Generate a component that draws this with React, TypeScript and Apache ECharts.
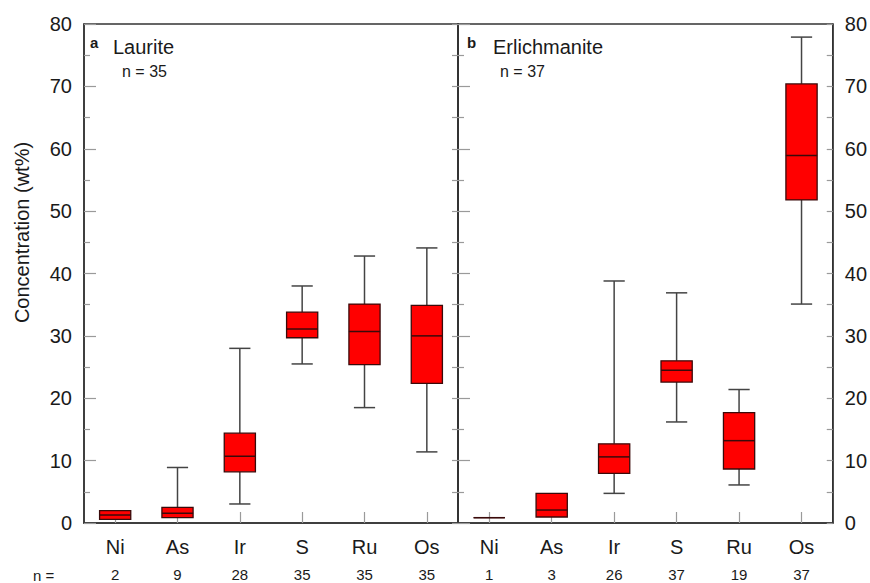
import React, { useEffect, useRef } from "react";
import * as echarts from "echarts";

const categories = ["Ni", "As", "Ir", "S", "Ru", "Os"];
// [min, q1, median, q3, max]
const lauriteStats = [
  [0.59, 0.59, 1.28, 1.97, 1.97],
  [0.85, 0.85, 1.55, 2.5, 8.9],
  [3.05, 8.2, 10.7, 14.4, 28.0],
  [25.5, 29.7, 31.1, 33.8, 38.0],
  [18.5, 25.4, 30.7, 35.1, 42.8],
  [11.4, 22.4, 30.0, 34.9, 44.1],
];
const erlichmaniteStats = [
  [0.85, 0.85, 0.85, 0.85, 0.85],
  [0.96, 0.96, 2.08, 4.75, 4.75],
  [4.75, 7.96, 10.6, 12.7, 38.8],
  [16.2, 22.6, 24.5, 26.0, 36.9],
  [6.1, 8.66, 13.2, 17.7, 21.4],
  [35.1, 51.8, 58.9, 70.4, 77.9],
];
const lauriteCounts = [2, 9, 28, 35, 35, 35];
const erlichmaniteCounts = [1, 3, 26, 37, 19, 37];
const yTicks = { min: 0, max: 80, interval: 10 };
const panelTitles = [
  { letter: "a", name: "Laurite", n: "n = 35" },
  { letter: "b", name: "Erlichmanite", n: "n = 37" },
];

const FONT = "Liberation Sans, Arial, Helvetica, sans-serif";
const TEXT = "#1a1a1a";
const AXIS = "#333";
const TICK = "#9a9a9a";

function renderBox(params: any, api: any) {
  const idx = api.value(0);
  const mn = api.value(1);
  const q1 = api.value(2);
  const md = api.value(3);
  const q3 = api.value(4);
  const mx = api.value(5);
  const band = api.size([1, 0])[0];
  const bw = band * 0.5;
  const cw = band * 0.34;
  const pMin = api.coord([idx, mn]);
  const pQ1 = api.coord([idx, q1]);
  const pMd = api.coord([idx, md]);
  const pQ3 = api.coord([idx, q3]);
  const pMax = api.coord([idx, mx]);
  const cx = pMd[0];
  const wStyle = { stroke: "#444", lineWidth: 1.5 };
  const children: any[] = [];
  if (mx > q3) {
    children.push({ type: "line", shape: { x1: cx, y1: pQ3[1], x2: cx, y2: pMax[1] }, style: wStyle });
    children.push({ type: "line", shape: { x1: cx - cw / 2, y1: pMax[1], x2: cx + cw / 2, y2: pMax[1] }, style: wStyle });
  }
  if (mn < q1) {
    children.push({ type: "line", shape: { x1: cx, y1: pQ1[1], x2: cx, y2: pMin[1] }, style: wStyle });
    children.push({ type: "line", shape: { x1: cx - cw / 2, y1: pMin[1], x2: cx + cw / 2, y2: pMin[1] }, style: wStyle });
  }
  children.push({
    type: "rect",
    shape: { x: cx - bw / 2, y: pQ3[1], width: bw, height: pQ1[1] - pQ3[1] },
    style: { fill: "#ff0000", stroke: "#3a0a0a", lineWidth: 1.3 },
  });
  children.push({
    type: "line",
    shape: { x1: cx - bw / 2, y1: pMd[1], x2: cx + bw / 2, y2: pMd[1] },
    style: { stroke: "#3a0a0a", lineWidth: 1.5 },
  });
  return { type: "group", children };
}

function xAxisFor(gridIndex: number, counts: number[]) {
  return {
    type: "category",
    gridIndex,
    data: categories,
    boundaryGap: true,
    axisLine: { show: true, lineStyle: { color: AXIS, width: 1.5 } },
    axisTick: { show: true, inside: true, alignWithLabel: true, length: 11, lineStyle: { color: TICK, width: 1.2 } },
    axisLabel: {
      margin: 12,
      formatter: (v: string, i: number) => `{c|${v}}\n{n|${counts[i]}}`,
      rich: {
        c: { fontSize: 20, lineHeight: 24, color: TEXT, fontFamily: FONT },
        n: { fontSize: 15, lineHeight: 30, color: TEXT, fontFamily: FONT },
      },
    },
    splitLine: { show: false },
  };
}

function yAxisFor(gridIndex: number, position: string, showLabel: boolean, majorLen: number, extra: any = {}) {
  return {
    type: "value",
    gridIndex,
    position,
    min: yTicks.min,
    max: yTicks.max,
    interval: yTicks.interval,
    axisLine: { show: true, onZero: false, lineStyle: { color: AXIS, width: 1.5 } },
    axisTick: { show: true, inside: true, length: majorLen, lineStyle: { color: TICK, width: 1.2 } },
    minorTick: { show: true, splitNumber: 2, length: 6, lineStyle: { color: TICK, width: 1.2 } },
    axisLabel: { show: showLabel, fontSize: 20, color: TEXT, fontFamily: FONT, margin: 12 },
    splitLine: { show: false },
    minorSplitLine: { show: false },
    ...extra,
  };
}

export default function App() {
  const ref = useRef<HTMLDivElement>(null);
  useEffect(() => {
    if (!ref.current) return;
    const chart = echarts.init(ref.current, null, { renderer: "svg" });
    const toData = (stats: number[][]) => stats.map((s, i) => [i, ...s]);
    const panelGraphics: any[] = [];
    const panelLayout = [
      { x0: 84, letter: 6, name: 29, n: 38 },
      { x0: 458, letter: 9, name: 35, n: 42 },
    ];
    panelTitles.forEach((p, k) => {
      const L = panelLayout[k];
      panelGraphics.push({
        type: "text", left: L.x0 + L.letter, top: 35,
        style: { text: p.letter, fontSize: 15, fontWeight: "bold", fill: TEXT, fontFamily: FONT },
      });
      panelGraphics.push({
        type: "text", left: L.x0 + L.name, top: 37,
        style: { text: p.name, fontSize: 20, fill: TEXT, fontFamily: FONT },
      });
      panelGraphics.push({
        type: "text", left: L.x0 + L.n, top: 63,
        style: { text: p.n, fontSize: 16, fill: TEXT, fontFamily: FONT },
      });
    });
    panelGraphics.push({
      type: "text", left: 33, top: 568,
      style: { text: "n =", fontSize: 15, fill: TEXT, fontFamily: FONT },
    });

    chart.setOption({
      animation: false,
      backgroundColor: "#ffffff",
      grid: [
        { left: 84, top: 24, width: 374, height: 499, show: true, borderColor: AXIS, borderWidth: 1.5, backgroundColor: "transparent" },
        { left: 458, top: 24, width: 375, height: 499, show: true, borderColor: AXIS, borderWidth: 1.5, backgroundColor: "transparent" },
      ],
      xAxis: [xAxisFor(0, lauriteCounts), xAxisFor(1, erlichmaniteCounts)],
      yAxis: [
        yAxisFor(0, "left", true, 12, {
          name: "Concentration (wt%)",
          nameLocation: "middle",
          nameGap: 52,
          nameTextStyle: { fontSize: 20, color: TEXT, fontFamily: FONT, padding: [0, 0, 0, 82] },
        }),
        yAxisFor(0, "right", false, 6),
        yAxisFor(1, "left", false, 12),
        yAxisFor(1, "right", true, 6),
      ],
      graphic: panelGraphics,
      series: [
        {
          type: "custom",
          name: "Laurite",
          xAxisIndex: 0,
          yAxisIndex: 0,
          renderItem: renderBox,
          encode: { x: 0, y: [1, 2, 3, 4, 5] },
          data: toData(lauriteStats),
          clip: false,
        },
        {
          type: "custom",
          name: "Erlichmanite",
          xAxisIndex: 1,
          yAxisIndex: 3,
          renderItem: renderBox,
          encode: { x: 0, y: [1, 2, 3, 4, 5] },
          data: toData(erlichmaniteStats),
          clip: false,
        },
      ],
    });
    return () => chart.dispose();
  }, []);
  return (
    <div
      ref={ref}
      style={{ position: "absolute", left: 0, top: 0, width: 870, height: 583, background: "#fff" }}
    />
  );
}
